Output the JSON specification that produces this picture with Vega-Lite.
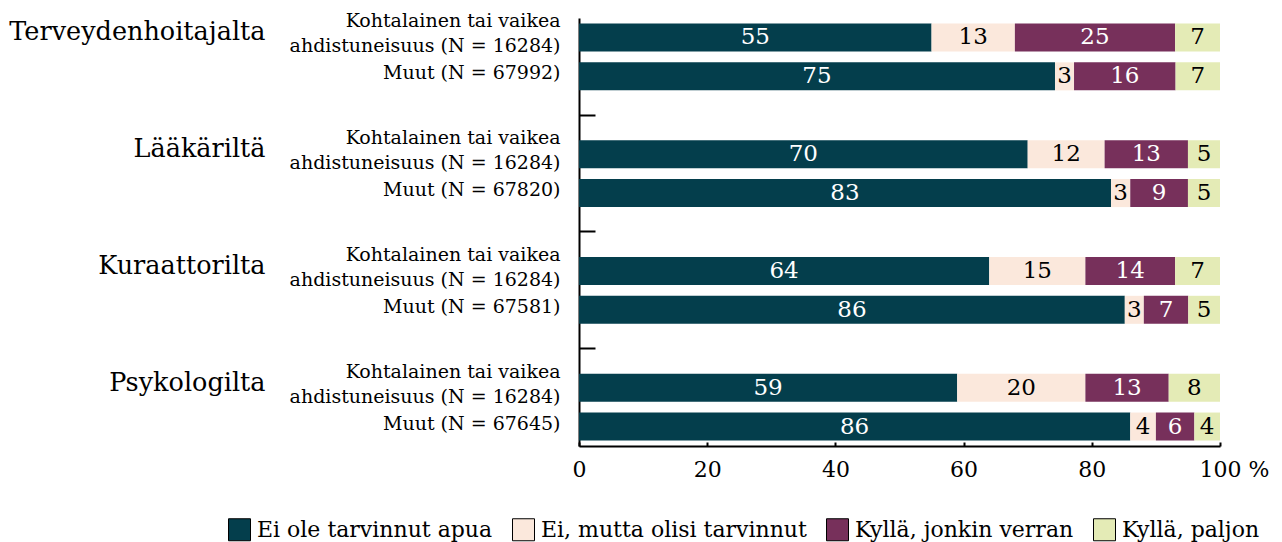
{
  "$schema": "https://vega.github.io/schema/vega-lite/v6.json",
  "autosize": {"type": "none"},
  "padding": {"left": 579, "top": 18, "right": 62, "bottom": 96},
  "width": 641,
  "height": 428,
  "background": "white",
  "config": {"view": {"stroke": null}, "font": "DejaVu Serif"},
  "datasets": {
    "rows": [
      {"row": "Terveydenhoitajalta|Kohtalainen tai vaikea|ahdistuneisuus (N = 16284)", "cat": "Ei ole tarvinnut apua", "k": 1, "value": 55},
      {"row": "Terveydenhoitajalta|Kohtalainen tai vaikea|ahdistuneisuus (N = 16284)", "cat": "Ei, mutta olisi tarvinnut", "k": 2, "value": 13},
      {"row": "Terveydenhoitajalta|Kohtalainen tai vaikea|ahdistuneisuus (N = 16284)", "cat": "Kyllä, jonkin verran", "k": 3, "value": 25},
      {"row": "Terveydenhoitajalta|Kohtalainen tai vaikea|ahdistuneisuus (N = 16284)", "cat": "Kyllä, paljon", "k": 4, "value": 7},
      {"row": "Terveydenhoitajalta|Muut (N = 67992)", "cat": "Ei ole tarvinnut apua", "k": 1, "value": 75},
      {"row": "Terveydenhoitajalta|Muut (N = 67992)", "cat": "Ei, mutta olisi tarvinnut", "k": 2, "value": 3},
      {"row": "Terveydenhoitajalta|Muut (N = 67992)", "cat": "Kyllä, jonkin verran", "k": 3, "value": 16},
      {"row": "Terveydenhoitajalta|Muut (N = 67992)", "cat": "Kyllä, paljon", "k": 4, "value": 7},
      {"row": "Lääkäriltä|Kohtalainen tai vaikea|ahdistuneisuus (N = 16284)", "cat": "Ei ole tarvinnut apua", "k": 1, "value": 70},
      {"row": "Lääkäriltä|Kohtalainen tai vaikea|ahdistuneisuus (N = 16284)", "cat": "Ei, mutta olisi tarvinnut", "k": 2, "value": 12},
      {"row": "Lääkäriltä|Kohtalainen tai vaikea|ahdistuneisuus (N = 16284)", "cat": "Kyllä, jonkin verran", "k": 3, "value": 13},
      {"row": "Lääkäriltä|Kohtalainen tai vaikea|ahdistuneisuus (N = 16284)", "cat": "Kyllä, paljon", "k": 4, "value": 5},
      {"row": "Lääkäriltä|Muut (N = 67820)", "cat": "Ei ole tarvinnut apua", "k": 1, "value": 83},
      {"row": "Lääkäriltä|Muut (N = 67820)", "cat": "Ei, mutta olisi tarvinnut", "k": 2, "value": 3},
      {"row": "Lääkäriltä|Muut (N = 67820)", "cat": "Kyllä, jonkin verran", "k": 3, "value": 9},
      {"row": "Lääkäriltä|Muut (N = 67820)", "cat": "Kyllä, paljon", "k": 4, "value": 5},
      {"row": "Kuraattorilta|Kohtalainen tai vaikea|ahdistuneisuus (N = 16284)", "cat": "Ei ole tarvinnut apua", "k": 1, "value": 64},
      {"row": "Kuraattorilta|Kohtalainen tai vaikea|ahdistuneisuus (N = 16284)", "cat": "Ei, mutta olisi tarvinnut", "k": 2, "value": 15},
      {"row": "Kuraattorilta|Kohtalainen tai vaikea|ahdistuneisuus (N = 16284)", "cat": "Kyllä, jonkin verran", "k": 3, "value": 14},
      {"row": "Kuraattorilta|Kohtalainen tai vaikea|ahdistuneisuus (N = 16284)", "cat": "Kyllä, paljon", "k": 4, "value": 7},
      {"row": "Kuraattorilta|Muut (N = 67581)", "cat": "Ei ole tarvinnut apua", "k": 1, "value": 86},
      {"row": "Kuraattorilta|Muut (N = 67581)", "cat": "Ei, mutta olisi tarvinnut", "k": 2, "value": 3},
      {"row": "Kuraattorilta|Muut (N = 67581)", "cat": "Kyllä, jonkin verran", "k": 3, "value": 7},
      {"row": "Kuraattorilta|Muut (N = 67581)", "cat": "Kyllä, paljon", "k": 4, "value": 5},
      {"row": "Psykologilta|Kohtalainen tai vaikea|ahdistuneisuus (N = 16284)", "cat": "Ei ole tarvinnut apua", "k": 1, "value": 59},
      {"row": "Psykologilta|Kohtalainen tai vaikea|ahdistuneisuus (N = 16284)", "cat": "Ei, mutta olisi tarvinnut", "k": 2, "value": 20},
      {"row": "Psykologilta|Kohtalainen tai vaikea|ahdistuneisuus (N = 16284)", "cat": "Kyllä, jonkin verran", "k": 3, "value": 13},
      {"row": "Psykologilta|Kohtalainen tai vaikea|ahdistuneisuus (N = 16284)", "cat": "Kyllä, paljon", "k": 4, "value": 8},
      {"row": "Psykologilta|Muut (N = 67645)", "cat": "Ei ole tarvinnut apua", "k": 1, "value": 86},
      {"row": "Psykologilta|Muut (N = 67645)", "cat": "Ei, mutta olisi tarvinnut", "k": 2, "value": 4},
      {"row": "Psykologilta|Muut (N = 67645)", "cat": "Kyllä, jonkin verran", "k": 3, "value": 6},
      {"row": "Psykologilta|Muut (N = 67645)", "cat": "Kyllä, paljon", "k": 4, "value": 4}
    ]
  },
  "data": {"name": "rows"},
  "layer": [
    {
      "mark": {"type": "bar"},
      "encoding": {
        "y": {
          "field": "row", "type": "nominal",
          "scale": {
            "domain": [
              "Terveydenhoitajalta|Kohtalainen tai vaikea|ahdistuneisuus (N = 16284)",
              "Terveydenhoitajalta|Muut (N = 67992)",
              "gap1",
              "Lääkäriltä|Kohtalainen tai vaikea|ahdistuneisuus (N = 16284)",
              "Lääkäriltä|Muut (N = 67820)",
              "gap2",
              "Kuraattorilta|Kohtalainen tai vaikea|ahdistuneisuus (N = 16284)",
              "Kuraattorilta|Muut (N = 67581)",
              "gap3",
              "Psykologilta|Kohtalainen tai vaikea|ahdistuneisuus (N = 16284)",
              "Psykologilta|Muut (N = 67645)"
            ],
            "paddingInner": 0.28, "paddingOuter": 0.14
          },
          "axis": {
            "title": null,
            "labelExpr": "indexof(datum.value, '|') < 0 ? '' : peek(split(datum.value, '|'))",
            "labelFont": "DejaVu Serif", "labelFontSize": 19, "labelColor": "black",
            "labelAlign": "right", "labelBaseline": "middle",
            "labelOffset": {"condition": {"test": "indexof(datum.value, 'Kohtalainen') >= 0", "value": 9}, "value": -3},
            "labelPadding": 35, "labelLimit": 0, "labelOverlap": false,
            "tickSize": -16, "tickWidth": 2, "tickColor": "black",
            "tickOpacity": {"condition": {"test": "indexof(datum.value, '|') < 0", "value": 1}, "value": 0},
            "domainColor": "black", "domainWidth": 2
          }
        },
        "x": {
          "field": "value", "type": "quantitative", "stack": "normalize",
          "scale": {"domain": [0, 1], "nice": false},
          "axis": {
            "title": null, "grid": false,
            "values": [0, 0.2, 0.4, 0.6, 0.8, 1],
            "labelExpr": "datum.value == 1 ? '100 %' : format(datum.value * 100, 'd')",
            "labelFont": "DejaVu Serif", "labelFontSize": 22, "labelColor": "black",
            "labelFlush": false, "labelOverlap": false, "labelPadding": 17,
            "labelOffset": {"condition": {"test": "datum.value == 1", "value": 14}, "value": 0},
            "tickSize": -4, "tickWidth": 2, "tickColor": "black",
            "domainColor": "black", "domainWidth": 2
          }
        },
        "color": {
          "field": "cat", "type": "nominal",
          "scale": {
            "domain": ["Ei ole tarvinnut apua", "Ei, mutta olisi tarvinnut", "Kyllä, jonkin verran", "Kyllä, paljon"],
            "range": ["#043e4c", "#fbe8dc", "#77305b", "#e4ebb6"]
          },
          "legend": {
            "title": null, "orient": "none", "legendX": -351, "legendY": 500,
            "direction": "horizontal", "columns": 4,
            "symbolType": "square", "symbolSize": 484,
            "symbolStrokeColor": "black", "symbolStrokeWidth": 1,
            "labelFont": "DejaVu Serif", "labelFontSize": 22, "labelColor": "black",
            "labelOffset": 6, "columnPadding": 17, "labelLimit": 0
          }
        },
        "order": {"field": "k", "type": "quantitative"}
      }
    },
    {
      "mark": {"type": "text", "font": "DejaVu Serif", "fontSize": 23, "align": "center", "baseline": "middle"},
      "encoding": {
        "y": {
          "field": "row", "type": "nominal",
          "scale": {
            "domain": [
              "Terveydenhoitajalta|Kohtalainen tai vaikea|ahdistuneisuus (N = 16284)",
              "Terveydenhoitajalta|Muut (N = 67992)",
              "gap1",
              "Lääkäriltä|Kohtalainen tai vaikea|ahdistuneisuus (N = 16284)",
              "Lääkäriltä|Muut (N = 67820)",
              "gap2",
              "Kuraattorilta|Kohtalainen tai vaikea|ahdistuneisuus (N = 16284)",
              "Kuraattorilta|Muut (N = 67581)",
              "gap3",
              "Psykologilta|Kohtalainen tai vaikea|ahdistuneisuus (N = 16284)",
              "Psykologilta|Muut (N = 67645)"
            ],
            "paddingInner": 0.28, "paddingOuter": 0.14
          },
          "axis": null
        },
        "x": {"field": "value", "type": "quantitative", "stack": "normalize", "bandPosition": 0.5},
        "detail": {"field": "cat", "type": "nominal"},
        "order": {"field": "k", "type": "quantitative"},
        "text": {"field": "value", "type": "quantitative"},
        "color": {"condition": {"test": "datum.k == 1 || datum.k == 3", "value": "white"}, "value": "black"}
      }
    },
    {
      "mark": {"type": "bar", "opacity": 0},
      "encoding": {
        "y": {
          "field": "row", "type": "nominal",
          "scale": {
            "domain": [
              "Terveydenhoitajalta|Kohtalainen tai vaikea|ahdistuneisuus (N = 16284)",
              "Terveydenhoitajalta|Muut (N = 67992)",
              "gap1",
              "Lääkäriltä|Kohtalainen tai vaikea|ahdistuneisuus (N = 16284)",
              "Lääkäriltä|Muut (N = 67820)",
              "gap2",
              "Kuraattorilta|Kohtalainen tai vaikea|ahdistuneisuus (N = 16284)",
              "Kuraattorilta|Muut (N = 67581)",
              "gap3",
              "Psykologilta|Kohtalainen tai vaikea|ahdistuneisuus (N = 16284)",
              "Psykologilta|Muut (N = 67645)"
            ],
            "paddingInner": 0.28, "paddingOuter": 0.14
          },
          "axis": {
            "orient": "left", "offset": 0, "title": null,
            "ticks": false, "domain": false,
            "labelExpr": "indexof(datum.value, 'Kohtalainen') >= 0 ? split(datum.value, '|')[0] : ''",
            "labelFont": "DejaVu Serif", "labelFontSize": 25.5, "labelColor": "black",
            "labelAlign": "right", "labelBaseline": "middle",
            "labelPadding": 314, "labelOffset": -5, "labelLimit": 0, "labelOverlap": false
          }
        },
        "x": {"field": "value", "type": "quantitative", "stack": "normalize"},
        "detail": {"field": "cat", "type": "nominal"}
      }
    },
    {
      "mark": {"type": "bar", "opacity": 0},
      "encoding": {
        "y": {
          "field": "row", "type": "nominal",
          "scale": {
            "domain": [
              "Terveydenhoitajalta|Kohtalainen tai vaikea|ahdistuneisuus (N = 16284)",
              "Terveydenhoitajalta|Muut (N = 67992)",
              "gap1",
              "Lääkäriltä|Kohtalainen tai vaikea|ahdistuneisuus (N = 16284)",
              "Lääkäriltä|Muut (N = 67820)",
              "gap2",
              "Kuraattorilta|Kohtalainen tai vaikea|ahdistuneisuus (N = 16284)",
              "Kuraattorilta|Muut (N = 67581)",
              "gap3",
              "Psykologilta|Kohtalainen tai vaikea|ahdistuneisuus (N = 16284)",
              "Psykologilta|Muut (N = 67645)"
            ],
            "paddingInner": 0.28, "paddingOuter": 0.14
          },
          "axis": {
            "orient": "left", "offset": 0, "title": null,
            "ticks": false, "domain": false,
            "labelExpr": "indexof(datum.value, 'Kohtalainen') >= 0 ? split(datum.value, '|')[1] : ''",
            "labelFont": "DejaVu Serif", "labelFontSize": 19, "labelColor": "black",
            "labelAlign": "right", "labelBaseline": "middle",
            "labelPadding": 19, "labelOffset": -16, "labelLimit": 0, "labelOverlap": false
          }
        },
        "x": {"field": "value", "type": "quantitative", "stack": "normalize"},
        "detail": {"field": "cat", "type": "nominal"}
      }
    }
  ],
  "resolve": {"scale": {"y": "independent"}, "axis": {"y": "independent"}}
}
